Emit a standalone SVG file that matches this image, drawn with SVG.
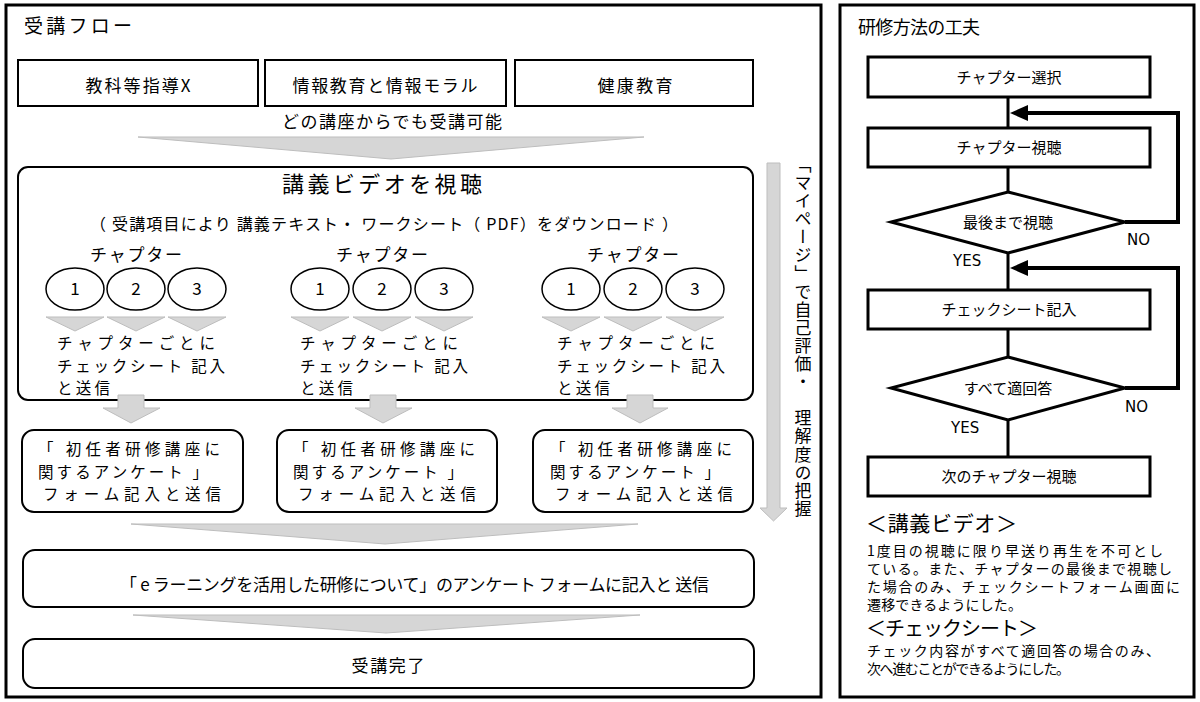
<svg xmlns="http://www.w3.org/2000/svg" width="1200" height="702" viewBox="0 0 1200 702">
<style>
text{font-family:"Noto Sans CJK JP","Noto Sans CJK SC",sans-serif;fill:#000}
.frame{fill:#fff;stroke:#000;stroke-width:3}
.box{fill:#fff;stroke:#000;stroke-width:2}
.fbox{fill:#fff;stroke:#000;stroke-width:3}
.gray{fill:#d6d6d6;stroke:#bdbdbd;stroke-width:1}
.ell{fill:#fff;stroke:#000;stroke-width:1.5}
.conn{fill:none;stroke:#000;stroke-width:3}
.fb{fill:none;stroke:#000;stroke-width:4}
.lat{font-family:"DejaVu Sans","Liberation Sans",sans-serif}
</style>
<rect width="1200" height="702" fill="#fff"/>
<g id="left-panel">
<rect class="frame" x="6" y="5" width="815" height="692"/>
<text x="24" y="33" font-size="19" textLength="108">受講フロー</text>
</g>
<g id="right-panel">
<rect class="frame" x="840" y="5" width="354" height="692"/>
<text x="858" y="34" font-size="18" textLength="122">研修方法の工夫</text>
</g>
<g id="course1"><rect class="box" x="18" y="60" width="240" height="46"/><text x="138" y="92" font-size="17" text-anchor="middle" textLength="105">教科等指導X</text></g>
<g id="course2"><rect class="box" x="265" y="60" width="241" height="46"/><text x="385" y="92" font-size="17" text-anchor="middle" textLength="185">情報教育と情報モラル</text></g>
<g id="course3"><rect class="box" x="515" y="60" width="238" height="46"/><text x="635" y="92" font-size="17" text-anchor="middle" textLength="75">健康教育</text></g>
<text x="392" y="128" font-size="17" text-anchor="middle" textLength="220">どの講座からでも受講可能</text>
<g id="video">
<rect class="box" x="18" y="167" width="735" height="233" rx="10"/>
<text x="382" y="192" font-size="22" text-anchor="middle" textLength="200">講義ビデオを視聴</text>
<text x="90" y="230" font-size="16" textLength="588">（ 受講項目により 講義テキスト・ ワークシート（ PDF）をダウンロード ）</text>
</g>
<g id="chapters1">
<text x="136" y="261" font-size="17" text-anchor="middle" textLength="92">チャプター</text>
<ellipse class="ell" cx="75" cy="289" rx="29" ry="21"/><ellipse class="ell" cx="136" cy="289" rx="29" ry="21"/><ellipse class="ell" cx="197" cy="289" rx="29" ry="21"/>
<text x="75" y="295" font-size="17" text-anchor="middle">1</text><text x="136" y="295" font-size="17" text-anchor="middle">2</text><text x="197" y="295" font-size="17" text-anchor="middle">3</text>
<text font-size="15.5"><tspan x="57" y="349" textLength="158">チャプターごとに</tspan><tspan x="57" y="371.5" textLength="168">チェックシート 記入</tspan><tspan x="57" y="394" textLength="53">と送信</tspan></text>
</g>
<g id="chapters2">
<text x="382" y="261" font-size="17" text-anchor="middle" textLength="92">チャプター</text>
<ellipse class="ell" cx="320" cy="289" rx="29" ry="21"/><ellipse class="ell" cx="382" cy="289" rx="29" ry="21"/><ellipse class="ell" cx="444" cy="289" rx="29" ry="21"/>
<text x="320" y="295" font-size="17" text-anchor="middle">1</text><text x="382" y="295" font-size="17" text-anchor="middle">2</text><text x="444" y="295" font-size="17" text-anchor="middle">3</text>
<text font-size="15.5"><tspan x="300" y="349" textLength="158">チャプターごとに</tspan><tspan x="300" y="371.5" textLength="168">チェックシート 記入</tspan><tspan x="300" y="394" textLength="53">と送信</tspan></text>
</g>
<g id="chapters3">
<text x="633" y="261" font-size="17" text-anchor="middle" textLength="92">チャプター</text>
<ellipse class="ell" cx="571" cy="289" rx="29" ry="21"/><ellipse class="ell" cx="633" cy="289" rx="29" ry="21"/><ellipse class="ell" cx="695" cy="289" rx="29" ry="21"/>
<text x="571" y="295" font-size="17" text-anchor="middle">1</text><text x="633" y="295" font-size="17" text-anchor="middle">2</text><text x="695" y="295" font-size="17" text-anchor="middle">3</text>
<text font-size="15.5"><tspan x="557" y="349" textLength="158">チャプターごとに</tspan><tspan x="557" y="371.5" textLength="168">チェックシート 記入</tspan><tspan x="557" y="394" textLength="53">と送信</tspan></text>
</g>
<g id="survey1"><rect class="box" x="22" y="430" width="221" height="82" rx="12"/>
<text font-size="15.5"><tspan x="38" y="455" textLength="182">「 初任者研修講座に</tspan><tspan x="38" y="477.5" textLength="170">関するアンケート 」</tspan><tspan x="43" y="500" textLength="178">フォーム記入と送信</tspan></text></g>
<g id="survey2"><rect class="box" x="277" y="430" width="220" height="82" rx="12"/>
<text font-size="15.5"><tspan x="293" y="455" textLength="182">「 初任者研修講座に</tspan><tspan x="293" y="477.5" textLength="170">関するアンケート 」</tspan><tspan x="298" y="500" textLength="178">フォーム記入と送信</tspan></text></g>
<g id="survey3"><rect class="box" x="533" y="430" width="220" height="82" rx="12"/>
<text font-size="15.5"><tspan x="550" y="455" textLength="182">「 初任者研修講座に</tspan><tspan x="550" y="477.5" textLength="170">関するアンケート 」</tspan><tspan x="555" y="500" textLength="178">フォーム記入と送信</tspan></text></g>
<g id="mypage">
<text x="803" y="156" font-size="17" letter-spacing="1.1" style="writing-mode:vertical-rl">「マイページ」で自己評価・　理解度の把握</text>
</g>
<g id="elearning"><rect class="box" x="23" y="550" width="731" height="57" rx="12"/>
<text x="120" y="591" font-size="17" textLength="589">「 e ラーニングを活用した研修について」のアンケート フォームに記入と 送信</text></g>
<g id="complete"><rect class="box" x="23" y="639" width="731" height="49" rx="12"/>
<text x="388" y="672" font-size="17" text-anchor="middle" textLength="73">受講完了</text></g>
<g id="f-select"><rect class="fbox" x="868" y="57" width="282" height="40"/><text x="1009" y="83" font-size="15" text-anchor="middle">チャプター選択</text></g>
<g id="f-watch"><rect class="fbox" x="868" y="128" width="282" height="39"/><text x="1009" y="153" font-size="15" text-anchor="middle">チャプター視聴</text></g>
<g id="f-dec1"><polygon class="fbox" points="1008,192 1125,222 1008,253 891,222"/><text x="1008" y="228" font-size="15" text-anchor="middle">最後まで視聴</text></g>
<g id="f-check"><rect class="fbox" x="868" y="290" width="282" height="39"/><text x="1009" y="315" font-size="15" text-anchor="middle">チェックシート記入</text></g>
<g id="f-dec2"><polygon class="fbox" points="1008,357 1125,388 1008,420 891,388"/><text x="1008" y="394" font-size="15" text-anchor="middle">すべて適回答</text></g>
<g id="f-next"><rect class="fbox" x="868" y="457" width="282" height="39"/><text x="1009" y="482" font-size="15" text-anchor="middle">次のチャプター視聴</text></g>
<g id="labels">
<text class="lat" x="1127" y="245" font-size="15">NO</text>
<text class="lat" x="953" y="266" font-size="15">YES</text>
<text class="lat" x="1125" y="412" font-size="15">NO</text>
<text class="lat" x="951" y="433" font-size="15">YES</text>
</g>
<g id="notes">
<text x="866" y="531" font-size="21" textLength="151">＜講義ビデオ＞</text>
<text font-size="14"><tspan x="867" y="556" textLength="296">1度目の視聴に限り早送り再生を不可とし</tspan><tspan x="867" y="574" textLength="305">ている。また、チャプターの最後まで視聴し</tspan><tspan x="867" y="592" textLength="313">た場合のみ、チェックシートフォーム画面に</tspan><tspan x="867" y="610" textLength="155">遷移できるようにした。</tspan></text>
<text x="866" y="636" font-size="20" textLength="172">＜チェックシート＞</text>
<text font-size="14"><tspan x="867" y="656" textLength="293">チェック内容がすべて適回答の場合のみ、</tspan><tspan x="867" y="674" textLength="203">次へ進むことができるようにした。</tspan></text>
</g>
<g id="connectors">
<polygon class="gray" points="138,137 644,137 391,159"/>
<polygon class="gray" points="46,317 104,317 75,331"/>
<polygon class="gray" points="107,317 165,317 136,331"/>
<polygon class="gray" points="168,317 226,317 197,331"/>
<polygon class="gray" points="291,317 349,317 320,331"/>
<polygon class="gray" points="353,317 411,317 382,331"/>
<polygon class="gray" points="415,317 473,317 444,331"/>
<polygon class="gray" points="542,317 600,317 571,331"/>
<polygon class="gray" points="604,317 662,317 633,331"/>
<polygon class="gray" points="666,317 724,317 695,331"/>
<polygon class="gray" points="118,395 144,395 144,408 160,408 131,423 103,408 118,408"/>
<polygon class="gray" points="370,395 396,395 396,408 412,408 383,423 355,408 370,408"/>
<polygon class="gray" points="627,395 653,395 653,408 668,408 640,423 612,408 627,408"/>
<polygon class="gray" points="131,524 638,524 385,544"/>
<polygon class="gray" points="133,615 640,615 386,633"/>
<polygon class="gray" points="767,163 780,163 780,508 787,508 773.5,521 760,508 767,508"/>
<line class="conn" x1="1008" y1="97" x2="1008" y2="128"/>
<line class="conn" x1="1008" y1="167" x2="1008" y2="192"/>
<line class="conn" x1="1008" y1="253" x2="1008" y2="290"/>
<line class="conn" x1="1008" y1="329" x2="1008" y2="357"/>
<line class="conn" x1="1008" y1="420" x2="1008" y2="457"/>
<polyline class="fb" points="1125,222 1178,222 1178,113 1026,113"/>
<polygon points="1010,113 1028,105 1028,121" fill="#000"/>
<polyline class="fb" points="1125,388 1178,388 1178,268 1026,268"/>
<polygon points="1010,268 1028,260 1028,276" fill="#000"/>
</g>
</svg>
